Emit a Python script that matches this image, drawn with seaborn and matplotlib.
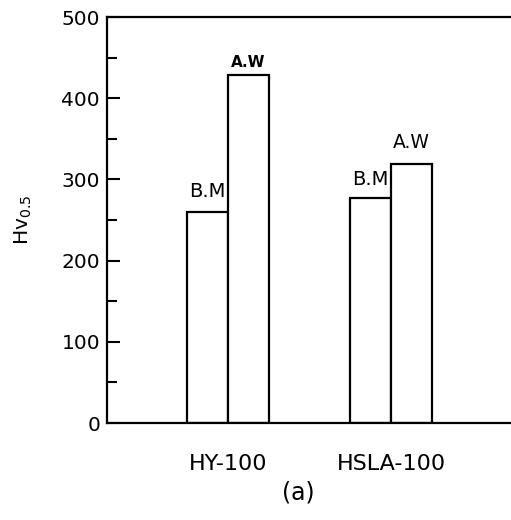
import matplotlib
matplotlib.use("Agg")
import matplotlib.pyplot as plt
import seaborn as sns
import pandas as pd
from matplotlib.ticker import MultipleLocator

materials = ["HY-100", "HSLA-100"]
conditions = ["B.M", "A.W"]
bm_values = [260, 277]
aw_values = [428, 319]

df = pd.DataFrame({
    "material": materials * 2,
    "condition": [conditions[0]] * 2 + [conditions[1]] * 2,
    "hv": bm_values + aw_values,
})

sns.set_style("ticks")
plt.rcParams["font.family"] = ["DejaVu Sans"]
plt.rcParams.update({
    "text.color": "black", "axes.labelcolor": "black",
    "xtick.color": "black", "ytick.color": "black",
    "axes.edgecolor": "black",
})

fig = plt.figure(figsize=(5.11, 5.2), dpi=100)
ax = fig.add_axes([0.2094, 0.1865, 0.7906, 0.7808])

sns.barplot(data=df, x="material", y="hv", hue="condition",
            order=materials, hue_order=conditions,
            palette=["white", "white"], edgecolor="black", linewidth=1.6,
            width=0.5, gap=0, legend=False, ax=ax)

# labels above bars (gap in px between bar top and text baseline)
gaps = {"B.M": [15, 13], "A.W": [8, 16]}
sizes = {"B.M": [14, 14], "A.W": [11, 13.5]}
weights = {"B.M": ["normal", "normal"], "A.W": ["bold", "normal"]}
for cont, cond in zip(ax.containers, conditions):
    for i, bar in enumerate(cont):
        ax.annotate(cond, (bar.get_x() + bar.get_width() / 2, bar.get_height()),
                    xytext=(0, gaps[cond][i] * 0.72), textcoords="offset points",
                    ha="center", va="baseline", fontsize=sizes[cond][i],
                    fontweight=weights[cond][i])

ax.set_ylim(0, 500)
ax.set_xlim(-0.742, 1.736)
ax.yaxis.set_major_locator(MultipleLocator(100))
ax.yaxis.set_minor_locator(MultipleLocator(50))
ax.tick_params(axis="y", which="major", direction="in", length=9, width=1.5,
               labelsize=14.5, pad=5)
ax.tick_params(axis="y", which="minor", direction="in", length=7, width=1.5)
ax.tick_params(axis="x", length=0, labelsize=16, pad=22)

for s in ["left", "top", "bottom"]:
    ax.spines[s].set_linewidth(1.6)
ax.spines["right"].set_visible(False)

ax.set_xlabel("")
ax.set_ylabel(r"Hv$_{\mathregular{0.5}}$", fontsize=14.5, labelpad=20)

fig.text(0.583, 0.052, "(a)", ha="center", va="center", fontsize=17)

fig.savefig("out.png", dpi=100)
